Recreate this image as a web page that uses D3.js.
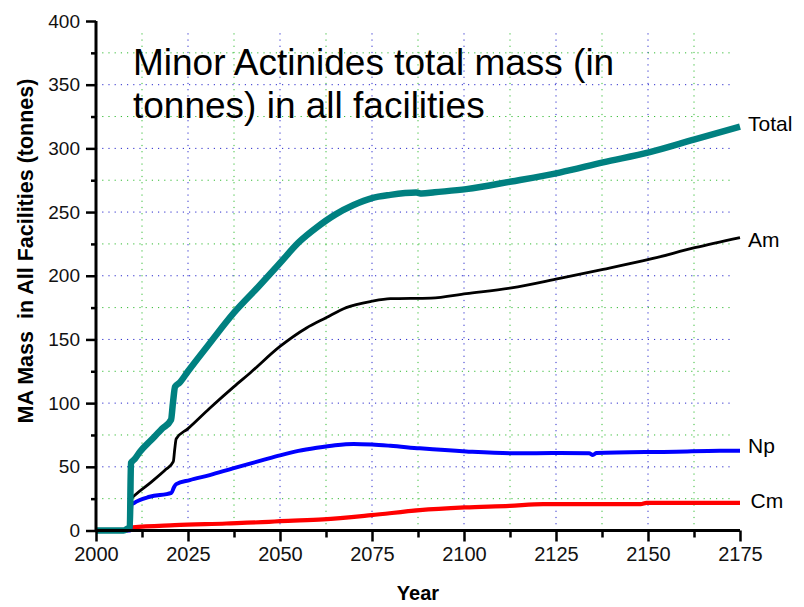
<!DOCTYPE html>
<html>
<head>
<meta charset="utf-8">
<script src="https://cdn.jsdelivr.net/npm/d3@7"></script>
<style>
  html, body { margin: 0; padding: 0; background: #fff; }
  svg { display: block; font-family: "Liberation Sans", Arial, sans-serif; }
</style>
</head>
<body>
<svg id="chart" width="804" height="607"></svg>
<script>
// ---- data ----
const totalYears = [2000, 2007.5, 2008.6, 2009.2, 2009.5, 2010.5, 2012, 2015, 2018, 2020.4, 2020.9, 2021.5, 2022.7, 2025, 2030.9, 2037.5, 2044, 2050, 2055, 2060, 2065, 2070, 2075, 2080, 2087, 2088.5, 2092, 2100.6, 2112.9, 2126, 2137.8, 2150.5, 2162.7, 2175];
const totalValues = [0, 0, 1.5, 2.5, 53, 56, 62, 71, 80, 87, 100, 113, 116, 125, 147, 171, 191, 210, 226, 238, 248, 255.5, 261, 263.5, 265.3, 264.5, 265.5, 268, 274, 281, 289, 297, 307, 317];

const amYears = [2000, 2009.3, 2009.6, 2010.3, 2015, 2019, 2021, 2021.4, 2021.8, 2025, 2030.9, 2037.5, 2041.8, 2050, 2057.2, 2062.5, 2068, 2075, 2080, 2091, 2100.6, 2112.9, 2126, 2137.8, 2150.5, 2162.7, 2175];
const amValues = [0, 0, 25, 27, 38, 48, 54, 64, 72, 80, 96, 113, 123.5, 144.5, 159, 167, 175, 180, 182, 182.5, 186, 190.5, 198, 205, 213, 222, 230];

const npYears = [2000, 2009.3, 2009.6, 2010.3, 2014.6, 2020.5, 2021.2, 2021.8, 2025.5, 2030.9, 2037.2, 2045, 2050, 2055, 2060, 2065, 2070, 2075, 2080, 2088, 2100.6, 2113, 2126, 2134, 2135, 2136, 2157.7, 2169.5, 2175];
const npValues = [0, 0, 20, 21.5, 26.5, 29.6, 34, 36.4, 39.6, 43.5, 48.8, 55, 59, 62.5, 65, 67, 68, 67.5, 66.5, 64.5, 62, 60.6, 60.8, 60.6, 59.3, 60.8, 61.9, 62.7, 62.7];

const cmYears = [2000, 2008.5, 2008.7, 2010, 2021.4, 2035.4, 2047, 2050, 2061.7, 2074.8, 2088, 2100.2, 2112.4, 2121.5, 2148, 2149.6, 2175];
const cmValues = [0, 0, 0.8, 2.4, 4.2, 5.5, 6.8, 7.3, 8.7, 12, 16, 18.1, 19.4, 20.7, 20.7, 21.7, 21.7];

const seriesNames = ["Cm", "Np", "Am", "Total"];
const seriesColors = ["#ff0000", "#0000ff", "#000000", "#008080"];
const seriesWidths = [4.2, 4, 2.8, 6.5];
const labelDy = [5.5, 2.5, 9, 4.5];

const xTicks = [2000, 2025, 2050, 2075, 2100, 2125, 2150, 2175];
const xMinorTicks = [2012.5, 2037.5, 2062.5, 2087.5, 2112.5, 2137.5, 2162.5];
const yTicks = [0, 50, 100, 150, 200, 250, 300, 350, 400];
const yMinorTicks = [25, 75, 125, 175, 225, 275, 325, 375];

const titleLines = ["Minor Actinides total mass (in", "tonnes) in all facilities"];
const xTitle = "Year";
const yTitle = "MA Mass  in All Facilities (tonnes)";

// ---- build ----
const svg = d3.select("#chart");
const x = d3.scaleLinear().domain([2000, 2175]).range([96, 740]);
const y = d3.scaleLinear().domain([0, 400]).range([530.5, 21]);

// gridlines
const grid = svg.append("g");
function vline(v, color) {
  grid.append("line")
    .attr("x1", x(v)).attr("x2", x(v))
    .attr("y1", y(0)).attr("y2", y(394))
    .attr("stroke", color).attr("stroke-width", 1)
    .attr("stroke-dasharray", "1.2,5");
}
function hline(v, color) {
  grid.append("line")
    .attr("x1", x(2000)).attr("x2", x(2173.5))
    .attr("y1", y(v)).attr("y2", y(v))
    .attr("stroke", color).attr("stroke-width", 1)
    .attr("stroke-dasharray", "1.2,5");
}
xMinorTicks.forEach(v => vline(v, "#33bb33"));
xTicks.filter(v => v > 2000 && v < 2175).forEach(v => vline(v, "#2a2acc"));
yMinorTicks.forEach(v => hline(v, "#33bb33"));
yTicks.filter(v => v > 0 && v < 400).forEach(v => hline(v, "#2a2acc"));

// series lines
const allYears = [cmYears, npYears, amYears, totalYears];
const allValues = [cmValues, npValues, amValues, totalValues];
const line = d3.line().x(d => x(d[0])).y(d => y(d[1])).curve(d3.curveMonotoneX);
seriesNames.forEach((name, i) => {
  const pts = allYears[i].map((yr, j) => [yr, allValues[i][j]]);
  svg.append("path")
    .attr("d", line(pts))
    .attr("fill", "none")
    .attr("stroke", seriesColors[i])
    .attr("stroke-width", seriesWidths[i])
    .attr("stroke-linejoin", "round");
  const last = pts[pts.length - 1];
  svg.append("text")
    .attr("x", x(last[0]) + (name === "Cm" ? 10.5 : 8))
    .attr("y", y(last[1]) + labelDy[i])
    .attr("font-size", 21)
    .attr("fill", "#000")
    .text(name);
});

// axes
const xAxis = svg.append("g").attr("transform", `translate(0,${y(0)})`)
  .call(d3.axisBottom(x).tickValues(xTicks).tickSize(11).tickPadding(5).tickFormat(d3.format("d")));
const xMinor = svg.append("g").attr("transform", `translate(0,${y(0)})`)
  .call(d3.axisBottom(x).tickValues(xMinorTicks).tickSize(7).tickFormat(""));
const yAxis = svg.append("g").attr("transform", `translate(${x(2000)},0)`)
  .call(d3.axisLeft(y).tickValues(yTicks).tickSize(10).tickPadding(6).tickFormat(d3.format("d")));
const yMinor = svg.append("g").attr("transform", `translate(${x(2000)},0)`)
  .call(d3.axisLeft(y).tickValues(yMinorTicks).tickSize(5).tickFormat(""));

[xAxis, xMinor, yAxis, yMinor].forEach(g => {
  g.select(".domain").attr("stroke", "#000").attr("stroke-width", 3);
  g.selectAll(".tick line").attr("stroke", "#000").attr("stroke-width", 2.5);
});
xAxis.selectAll(".tick text").attr("font-size", 20).attr("font-family", "Liberation Sans, Arial, sans-serif").attr("fill", "#111");
yAxis.selectAll(".tick text").attr("font-size", 19).attr("font-family", "Liberation Sans, Arial, sans-serif").attr("fill", "#111");
xAxis.select(".domain").attr("d", `M${x(2000)},0H${x(2175)}`);
yAxis.select(".domain").attr("d", `M0,${y(0)}V${y(400)}`);
xMinor.select(".domain").remove();
yMinor.select(".domain").remove();

// axis titles
svg.append("text")
  .attr("x", x(2087.5)).attr("y", 600)
  .attr("text-anchor", "middle")
  .attr("font-size", 20).attr("font-weight", "bold")
  .text(xTitle);
svg.append("text")
  .attr("transform", "translate(33,251) rotate(-90)")
  .attr("text-anchor", "middle")
  .attr("font-size", 21.5).attr("font-weight", "bold")
  .style("white-space", "pre")
  .text(yTitle);

// chart title
titleLines.forEach((t, i) => {
  svg.append("text")
    .attr("x", 133).attr("y", 75 + i * 43.3)
    .attr("font-size", 37)
    .attr("fill", "#000")
    .text(t);
});
</script>
</body>
</html>
